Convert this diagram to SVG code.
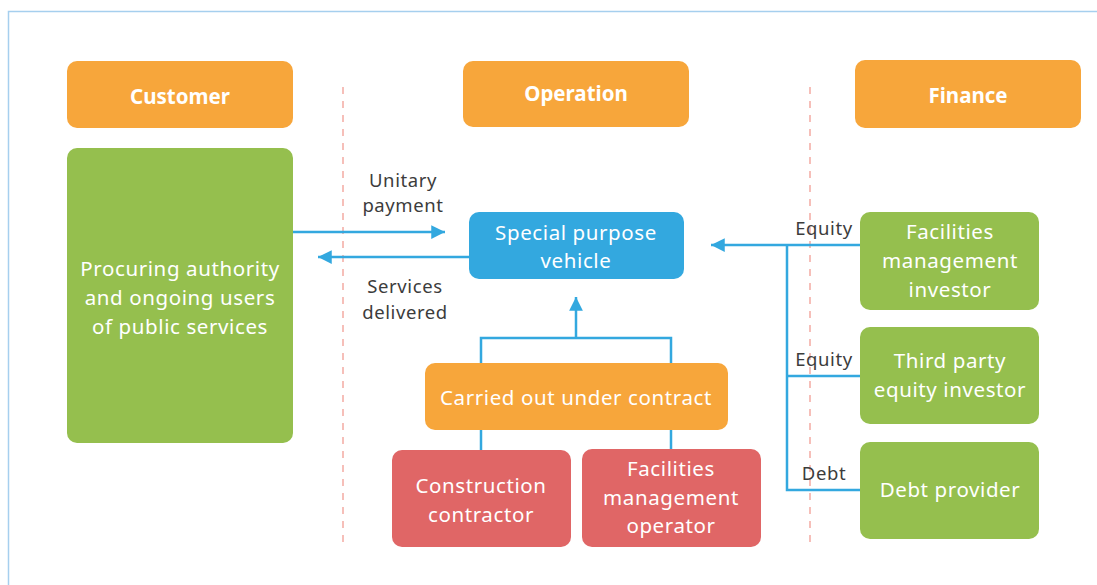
<svg xmlns="http://www.w3.org/2000/svg" width="1097" height="585" viewBox="0 0 1097 585">
<defs>
<style>
.box{stroke:none}
.or{fill:#f7a63b}.gr{fill:#95bf4e}.bl{fill:#33a8df}.rd{fill:#e06666}
.t{font-family:"Noto Sans","Open Sans",sans-serif;font-size:20.5px;letter-spacing:0.6px;fill:#ffffff;text-anchor:middle}
.h{font-family:"Noto Sans","Open Sans",sans-serif;font-size:20.5px;font-weight:bold;fill:#ffffff;text-anchor:middle}
.l{font-family:"Noto Sans","Open Sans",sans-serif;font-size:18.5px;letter-spacing:0.6px;fill:#3c3c3c;text-anchor:middle}
.c{fill:none;stroke:#33a8df;stroke-width:2.5}
.d{fill:none;stroke:#f4aba3;stroke-width:1.5;stroke-dasharray:7 7}
</style>
<marker id="ah" viewBox="0 0 10 10" refX="10" refY="5" markerWidth="5.5" markerHeight="5.5" markerUnits="strokeWidth" orient="auto">
<path d="M0,0 L10,5 L0,10 z" fill="#33a8df"/>
</marker>
</defs>
<rect width="1097" height="585" fill="#ffffff"/>
<path d="M8.5,585 V11.5 H1097" fill="none" stroke="#a6cfee" stroke-width="1.5"/>
<g id="dividers">
<line class="d" x1="343" y1="87" x2="343" y2="545"/>
<line class="d" x1="810" y1="87" x2="810" y2="545"/>
</g>
<g id="connectors">
<line class="c" x1="293" y1="232" x2="445" y2="232" marker-end="url(#ah)"/>
<line class="c" x1="469" y1="257" x2="318" y2="257" marker-end="url(#ah)"/>
<line class="c" x1="576" y1="338" x2="576" y2="297" marker-end="url(#ah)"/>
<path class="c" d="M481,363 V338 H671 V363"/>
<line class="c" x1="481" y1="430" x2="481" y2="450"/>
<line class="c" x1="671" y1="430" x2="671" y2="449"/>
<line class="c" x1="860" y1="245" x2="711" y2="245" marker-end="url(#ah)"/>
<path class="c" d="M787,245 V490 H860"/>
<line class="c" x1="787" y1="376" x2="860" y2="376"/>
<text class="l" x="403" y="187">Unitary</text>
<text class="l" x="403" y="212">payment</text>
<text class="l" x="405" y="293">Services</text>
<text class="l" x="405" y="319">delivered</text>
<text class="l" x="824" y="235">Equity</text>
<text class="l" x="824" y="366">Equity</text>
<text class="l" x="824" y="480">Debt</text>
</g>
<g id="customer-header"><rect class="box or" x="67" y="61" width="226" height="67" rx="10"/><text class="h" x="180" y="104">Customer</text></g>
<g id="operation-header"><rect class="box or" x="463" y="61" width="226" height="66" rx="10"/><text class="h" x="576" y="101">Operation</text></g>
<g id="finance-header"><rect class="box or" x="855" y="60" width="226" height="68" rx="10"/><text class="h" x="968" y="103">Finance</text></g>
<g id="customer"><rect class="box gr" x="67" y="148" width="226" height="295" rx="10"/>
<text class="t" x="180" y="276">Procuring authority</text><text class="t" x="180" y="305">and ongoing users</text><text class="t" x="180" y="334">of public services</text></g>
<g id="spv"><rect class="box bl" x="469" y="212" width="215" height="67" rx="10"/>
<text class="t" x="576" y="240">Special purpose</text><text class="t" x="576" y="268">vehicle</text></g>
<g id="contract"><rect class="box or" x="425" y="363" width="303" height="67" rx="10"/>
<text class="t" x="576" y="405">Carried out under contract</text></g>
<g id="construction"><rect class="box rd" x="392" y="450" width="179" height="97" rx="10"/>
<text class="t" x="481" y="493">Construction</text><text class="t" x="481" y="522">contractor</text></g>
<g id="fm-operator"><rect class="box rd" x="582" y="449" width="179" height="98" rx="10"/>
<text class="t" x="671" y="476">Facilities</text><text class="t" x="671" y="505">management</text><text class="t" x="671" y="533">operator</text></g>
<g id="fm-investor"><rect class="box gr" x="860" y="212" width="179" height="98" rx="10"/>
<text class="t" x="950" y="239">Facilities</text><text class="t" x="950" y="268">management</text><text class="t" x="950" y="297">investor</text></g>
<g id="third-party"><rect class="box gr" x="860" y="327" width="179" height="97" rx="10"/>
<text class="t" x="950" y="368">Third party</text><text class="t" x="950" y="397">equity investor</text></g>
<g id="debt-provider"><rect class="box gr" x="860" y="442" width="179" height="97" rx="10"/>
<text class="t" x="950" y="497">Debt provider</text></g>
</svg>
